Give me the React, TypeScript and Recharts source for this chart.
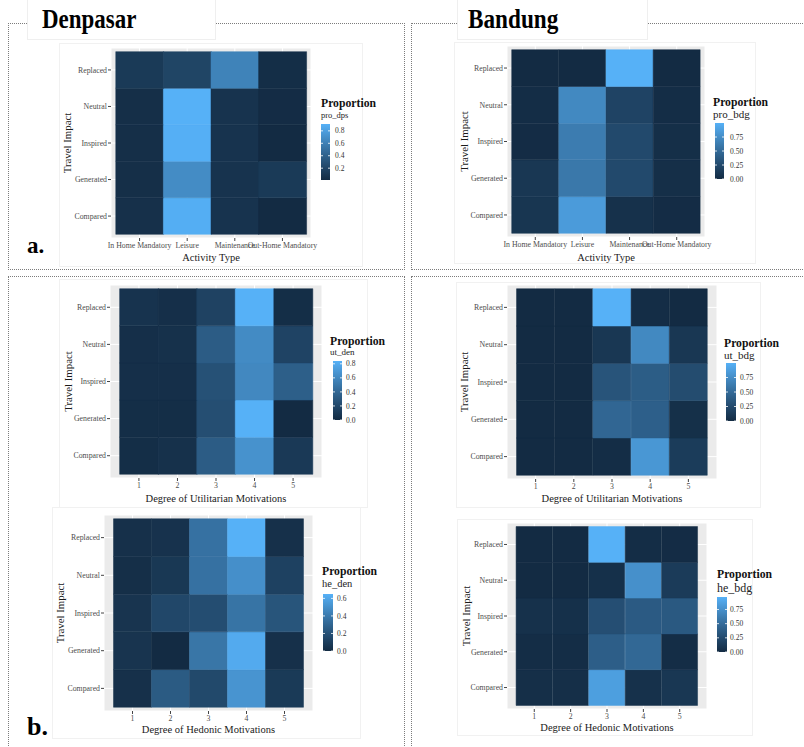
import React from 'react';
import { BarChart, Bar, Cell, XAxis, YAxis, CartesianGrid } from 'recharts';

const SERIF = "'Liberation Serif', 'Times New Roman', serif";

// ---------- data ----------
const impactRows = ['Replaced', 'Neutral', 'Inspired', 'Generated', 'Compared'];
const activityTypes = ['In Home Mandatory', 'Leisure', 'Maintenance', 'Out-Home Mandatory'];
const motivationDegrees = ['1', '2', '3', '4', '5'];

// rows in order: Replaced, Neutral, Inspired, Generated, Compared
const proDps = [
  [0.12, 0.2, 0.62, 0.03],
  [0.04, 0.91, 0.07, 0.02],
  [0.04, 0.9, 0.07, 0.01],
  [0.04, 0.68, 0.07, 0.12],
  [0.05, 0.89, 0.07, 0.01],
];
const proBdg = [
  [0.0, 0.0, 1.0, 0.0],
  [0.02, 0.72, 0.2, 0.02],
  [0.01, 0.63, 0.25, 0.03],
  [0.1, 0.6, 0.25, 0.03],
  [0.09, 0.85, 0.05, 0.01],
];
const utDen = [
  [0.06, 0.03, 0.16, 0.84, 0.02],
  [0.03, 0.04, 0.33, 0.62, 0.17],
  [0.03, 0.03, 0.26, 0.6, 0.35],
  [0.02, 0.02, 0.24, 0.84, 0.0],
  [0.02, 0.04, 0.33, 0.66, 0.1],
];
const utBdg = [
  [0.0, 0.0, 1.0, 0.02, 0.0],
  [0.0, 0.0, 0.1, 0.72, 0.1],
  [0.0, 0.0, 0.33, 0.4, 0.27],
  [0.0, 0.0, 0.47, 0.42, 0.04],
  [0.0, 0.0, 0.02, 0.82, 0.14],
];
const heDen = [
  [0.03, 0.04, 0.36, 0.65, 0.03],
  [0.02, 0.07, 0.36, 0.5, 0.12],
  [0.05, 0.15, 0.18, 0.37, 0.22],
  [0.05, 0.0, 0.38, 0.62, 0.03],
  [0.03, 0.25, 0.16, 0.52, 0.08],
];
const heBdg = [
  [0.0, 0.0, 0.97, 0.02, 0.01],
  [0.0, 0.0, 0.04, 0.75, 0.13],
  [0.05, 0.04, 0.28, 0.37, 0.36],
  [0.02, 0.02, 0.4, 0.47, 0.02],
  [0.03, 0.03, 0.85, 0.05, 0.1],
];

const dpsTicks = [0.2, 0.4, 0.6, 0.8];
const bdgTicks = [0, 0.25, 0.5, 0.75];
const utDenTicks = [0, 0.2, 0.4, 0.6, 0.8];
const heDenTicks = [0, 0.2, 0.4, 0.6];

// ---------- colour ramp (ggplot default, Lab interpolation) ----------
const LOW = '#132B43';
const HIGH = '#56B1F7';
function hexToRgb(h: string) {
  return [parseInt(h.slice(1, 3), 16), parseInt(h.slice(3, 5), 16), parseInt(h.slice(5, 7), 16)];
}
function toLab(rgb: number[]) {
  const lin = rgb.map((c) => {
    const v = c / 255;
    return v <= 0.04045 ? v / 12.92 : Math.pow((v + 0.055) / 1.055, 2.4);
  });
  const [r, g, b] = lin;
  const X = (0.4124564 * r + 0.3575761 * g + 0.1804375 * b) / 0.95047;
  const Y = 0.2126729 * r + 0.7151522 * g + 0.072175 * b;
  const Z = (0.0193339 * r + 0.119192 * g + 0.9503041 * b) / 1.08883;
  const f = (t: number) => (t > 0.008856 ? Math.cbrt(t) : 7.787 * t + 16 / 116);
  const fx = f(X), fy = f(Y), fz = f(Z);
  return [116 * fy - 16, 500 * (fx - fy), 200 * (fy - fz)];
}
function fromLab(lab: number[]) {
  const [L, a, bb] = lab;
  const fy = (L + 16) / 116;
  const fx = fy + a / 500;
  const fz = fy - bb / 200;
  const inv = (f: number) => (f * f * f > 0.008856 ? f * f * f : (f - 16 / 116) / 7.787);
  const X = inv(fx) * 0.95047, Y = inv(fy), Z = inv(fz) * 1.08883;
  const r = 3.2404542 * X - 1.5371385 * Y - 0.4985314 * Z;
  const g = -0.969266 * X + 1.8760108 * Y + 0.041556 * Z;
  const b = 0.0556434 * X - 0.2040259 * Y + 1.0572252 * Z;
  const gam = (c: number) => {
    const v = c <= 0.0031308 ? 12.92 * c : 1.055 * Math.pow(c, 1 / 2.4) - 0.055;
    const n = Math.round(Math.max(0, Math.min(1, v)) * 255);
    return n.toString(16).padStart(2, '0');
  };
  return '#' + gam(r) + gam(g) + gam(b);
}
const LAB_LO = toLab(hexToRgb(LOW));
const LAB_HI = toLab(hexToRgb(HIGH));
function ramp(t: number) {
  const tt = Math.max(0, Math.min(1, t));
  return fromLab(LAB_LO.map((v, i) => v + (LAB_HI[i] - v) * tt));
}

// ---------- components ----------
type Box = { l: number; t: number; w: number; h: number };
type Plot = { x0: number; x1: number; y0: number; y1: number };
type Legend = {
  name: string;
  titleX: number; titleBase: number; subBase: number; subSize: number;
  barX: number; barW: number; barTop: number; barBottom: number;
  labelX: number; ticks: number[]; dec: number;
};
type HeatCfg = {
  id: string; box: Box; plot: Plot; cols: string[]; values: number[][];
  padFrac: number; xTitle: string; xTitleBase: number; yTitleX: number; legend: Legend;
};

const serifStyle = { fontFamily: SERIF };

function ColorBar({ lg, vmin, vmax, id }: { lg: Legend; vmin: number; vmax: number; id: string }) {
  const L = lg.titleX - 2;
  const T = lg.titleBase - 14;
  const W = 72;
  const H = lg.barBottom + 8 - T;
  const stops = Array.from({ length: 11 }, (_, k) => k / 10);
  const yOf = (v: number) => lg.barTop + (lg.barBottom - lg.barTop) * (1 - (v - vmin) / (vmax - vmin)) - T;
  const bx = lg.barX - L;
  return (
    <svg style={{ position: 'absolute', left: L, top: T, fontFamily: SERIF }} width={W} height={H}>
      <defs>
        <linearGradient id={id} x1="0" y1="1" x2="0" y2="0">
          {stops.map((s) => (
            <stop key={s} offset={s} stopColor={ramp(s)} />
          ))}
        </linearGradient>
      </defs>
      <text x={lg.titleX - L} y={lg.titleBase - T} fontSize={11.7} fontWeight="bold" style={serifStyle} fill="#111">
        Proportion
      </text>
      <text x={lg.titleX - L} y={lg.subBase - T} fontSize={lg.subSize} style={serifStyle} fill="#222">
        {lg.name}
      </text>
      <rect x={bx} y={lg.barTop - T} width={lg.barW} height={lg.barBottom - lg.barTop} fill={`url(#${id})`} />
      {lg.ticks.map((v) => {
        const y = yOf(v);
        return (
          <g key={v}>
            <line x1={bx} x2={bx + 2} y1={y} y2={y} stroke="#fff" strokeWidth={0.8} />
            <line x1={bx + lg.barW - 2} x2={bx + lg.barW} y1={y} y2={y} stroke="#fff" strokeWidth={0.8} />
            <text x={lg.labelX - L} y={y} dy="0.35em" fontSize={7.5} style={serifStyle} fill="#333">
              {v.toFixed(lg.dec)}
            </text>
          </g>
        );
      })}
    </svg>
  );
}

function Heatmap({ cfg }: { cfg: HeatCfg }) {
  const { box, plot, cols, values, padFrac } = cfg;
  const nR = impactRows.length;
  const flat = values.flat();
  const vmin = Math.min(...flat);
  const vmax = Math.max(...flat);
  const data = cols.map((c) => {
    const o: Record<string, any> = { cat: c };
    impactRows.forEach((_, j) => {
      o['r' + j] = 1;
    });
    return o;
  });
  const bw = (plot.x1 - plot.x0) / (cols.length + 2 * padFrac);
  const pad = bw * padFrac;
  const yTicks = impactRows.map((_, j) => j + 0.5);
  const xtx = (plot.x0 + plot.x1) / 2 - box.l;
  const xty = cfg.xTitleBase - box.t;
  const ytx = cfg.yTitleX - box.l;
  const yty = (plot.y0 + plot.y1) / 2 - box.t;
  const tickStyle = { fontSize: 7.8, fill: '#4d4d4d', fontFamily: SERIF, style: serifStyle };
  return (
    <>
      <div
        style={{
          position: 'absolute', left: box.l, top: box.t, width: box.w, height: box.h,
          background: '#fff', outline: '1px solid #f1f1f1', fontFamily: SERIF,
        }}
      >
        <BarChart
          width={box.w}
          height={box.h}
          data={data}
          margin={{ top: plot.y0 - box.t, right: box.l + box.w - plot.x1, bottom: 0, left: 0 }}
          barCategoryGap={0}
          barGap={0}
          style={serifStyle}
        >
          <CartesianGrid fill="#EBEBEB" stroke="#ffffff" strokeWidth={1} />
          <XAxis
            dataKey="cat"
            type="category"
            interval={0}
            padding={{ left: pad, right: pad }}
            height={box.t + box.h - plot.y1}
            tickSize={3}
            tickMargin={1}
            axisLine={false}
            tickLine={{ stroke: '#444' }}
            tick={tickStyle}
            label={() => (
              <text x={xtx} y={xty} textAnchor="middle" fontSize={10.5} style={serifStyle} fill="#1a1a1a">
                {cfg.xTitle}
              </text>
            )}
          />
          <YAxis
            type="number"
            domain={[-0.1, nR + 0.1]}
            ticks={yTicks}
            allowDataOverflow
            width={plot.x0 - box.l}
            tickSize={3}
            tickMargin={1}
            axisLine={false}
            tickLine={{ stroke: '#444' }}
            tick={tickStyle}
            tickFormatter={(v: number) => impactRows[nR - 1 - Math.floor(v)]}
            label={() => (
              <text
                x={ytx}
                y={yty}
                dy="0.35em"
                transform={`rotate(-90 ${ytx} ${yty})`}
                textAnchor="middle"
                fontSize={10.8}
                style={serifStyle}
                fill="#1a1a1a"
              >
                Travel Impact
              </text>
            )}
          />
          {impactRows.map((_, j) => (
            <Bar key={'r' + j} dataKey={'r' + j} stackId="s" isAnimationActive={false}>
              {cols.map((c, i) => {
                const v = values[nR - 1 - j][i];
                const fill = ramp((v - vmin) / (vmax - vmin));
                return <Cell key={c} fill={fill} stroke={fill} strokeWidth={0.5} />;
              })}
            </Bar>
          ))}
        </BarChart>
      </div>
      <ColorBar lg={cfg.legend} vmin={vmin} vmax={vmax} id={'grad-' + cfg.id} />
    </>
  );
}

// ---------- layout ----------
const charts: HeatCfg[] = [
  {
    id: 'pd', box: { l: 60, t: 44, w: 302, h: 222 }, plot: { x0: 111, x1: 311, y0: 48, y1: 238 },
    cols: activityTypes, values: proDps, padFrac: 0.1, xTitle: 'Activity Type', xTitleBase: 261, yTitleX: 67,
    legend: { name: 'pro_dps', titleX: 321, titleBase: 107, subBase: 118, subSize: 8.5, barX: 321, barW: 9, barTop: 124, barBottom: 180, labelX: 335, ticks: dpsTicks, dec: 1 },
  },
  {
    id: 'pb', box: { l: 455, t: 43, w: 300, h: 220 }, plot: { x0: 507, x1: 705, y0: 46, y1: 237 },
    cols: activityTypes, values: proBdg, padFrac: 0.1, xTitle: 'Activity Type', xTitleBase: 261, yTitleX: 464,
    legend: { name: 'pro_bdg', titleX: 713, titleBase: 106, subBase: 118, subSize: 11, barX: 715, barW: 9, barTop: 123, barBottom: 179, labelX: 730, ticks: bdgTicks, dec: 2 },
  },
  {
    id: 'ud', box: { l: 60, t: 280, w: 307, h: 227 }, plot: { x0: 110, x1: 322, y0: 285, y1: 478 },
    cols: motivationDegrees, values: utDen, padFrac: 0.25, xTitle: 'Degree of Utilitarian Motivations', xTitleBase: 502, yTitleX: 68,
    legend: { name: 'ut_den', titleX: 330, titleBase: 345, subBase: 355, subSize: 9, barX: 333, barW: 9, barTop: 361, barBottom: 420, labelX: 346, ticks: utDenTicks, dec: 1 },
  },
  {
    id: 'ub', box: { l: 457, t: 283, w: 303, h: 224 }, plot: { x0: 507, x1: 717, y0: 285, y1: 479 },
    cols: motivationDegrees, values: utBdg, padFrac: 0.25, xTitle: 'Degree of Utilitarian Motivations', xTitleBase: 502, yTitleX: 464,
    legend: { name: 'ut_bdg', titleX: 724, titleBase: 347, subBase: 359, subSize: 11, barX: 726, barW: 10, barTop: 363, barBottom: 421, labelX: 740, ticks: bdgTicks, dec: 2 },
  },
  {
    id: 'hd', box: { l: 53, t: 508, w: 307, h: 230 }, plot: { x0: 104, x1: 313, y0: 515, y1: 711 },
    cols: motivationDegrees, values: heDen, padFrac: 0.25, xTitle: 'Degree of Hedonic Motivations', xTitleBase: 733, yTitleX: 60,
    legend: { name: 'he_den', titleX: 322, titleBase: 575, subBase: 587, subSize: 10.5, barX: 323, barW: 10, barTop: 594, barBottom: 651, labelX: 337, ticks: heDenTicks, dec: 1 },
  },
  {
    id: 'hb', box: { l: 458, t: 520, w: 294, h: 215 }, plot: { x0: 507, x1: 707, y0: 523, y1: 709 },
    cols: motivationDegrees, values: heBdg, padFrac: 0.25, xTitle: 'Degree of Hedonic Motivations', xTitleBase: 731, yTitleX: 466,
    legend: { name: 'he_bdg', titleX: 717, titleBase: 578, subBase: 592, subSize: 12, barX: 717, barW: 10, barTop: 597, barBottom: 652, labelX: 730, ticks: bdgTicks, dec: 2 },
  },
];

const dotted = '1px dotted #7c7c7c';

export default function App() {
  return (
    <div
      style={{
        position: 'absolute', left: 0, top: 0, width: 804, height: 747,
        background: '#fff', overflow: 'hidden', fontFamily: SERIF,
      }}
    >
      {/* dotted panel frames */}
      <div style={{ position: 'absolute', left: 8, top: 23, width: 397, height: 247, border: dotted, boxSizing: 'border-box' }} />
      <div style={{ position: 'absolute', left: 411, top: 23, width: 400, height: 247, border: dotted, borderRight: 'none', boxSizing: 'border-box' }} />
      <div style={{ position: 'absolute', left: 8, top: 276, width: 397, height: 480, border: dotted, borderBottom: 'none', boxSizing: 'border-box' }} />
      <div style={{ position: 'absolute', left: 411, top: 276, width: 400, height: 480, border: dotted, borderRight: 'none', borderBottom: 'none', boxSizing: 'border-box' }} />

      {/* title boxes */}
      <div style={{ position: 'absolute', left: 28, top: -1, width: 187, height: 40, background: '#fff', outline: '1px solid #efefef' }} />
      <div style={{ position: 'absolute', left: 458, top: -1, width: 189, height: 40, background: '#fff', outline: '1px solid #efefef' }} />

      {charts.map((c) => (
        <Heatmap key={c.id} cfg={c} />
      ))}

      <svg style={{ position: 'absolute', left: 0, top: 0, pointerEvents: 'none', fontFamily: SERIF }} width={804} height={747}>
        <text transform="translate(42 28) scale(0.85 1)" fontSize={27} fontWeight="bold" style={serifStyle} fill="#000">
          Denpasar
        </text>
        <text transform="translate(468 28) scale(0.86 1)" fontSize={27} fontWeight="bold" style={serifStyle} fill="#000">
          Bandung
        </text>
        <text x={27} y={253} fontSize={23} fontWeight="bold" style={serifStyle} fill="#000">
          a.
        </text>
        <text x={27} y={735} fontSize={26} fontWeight="bold" style={serifStyle} fill="#000">
          b.
        </text>
      </svg>
    </div>
  );
}
